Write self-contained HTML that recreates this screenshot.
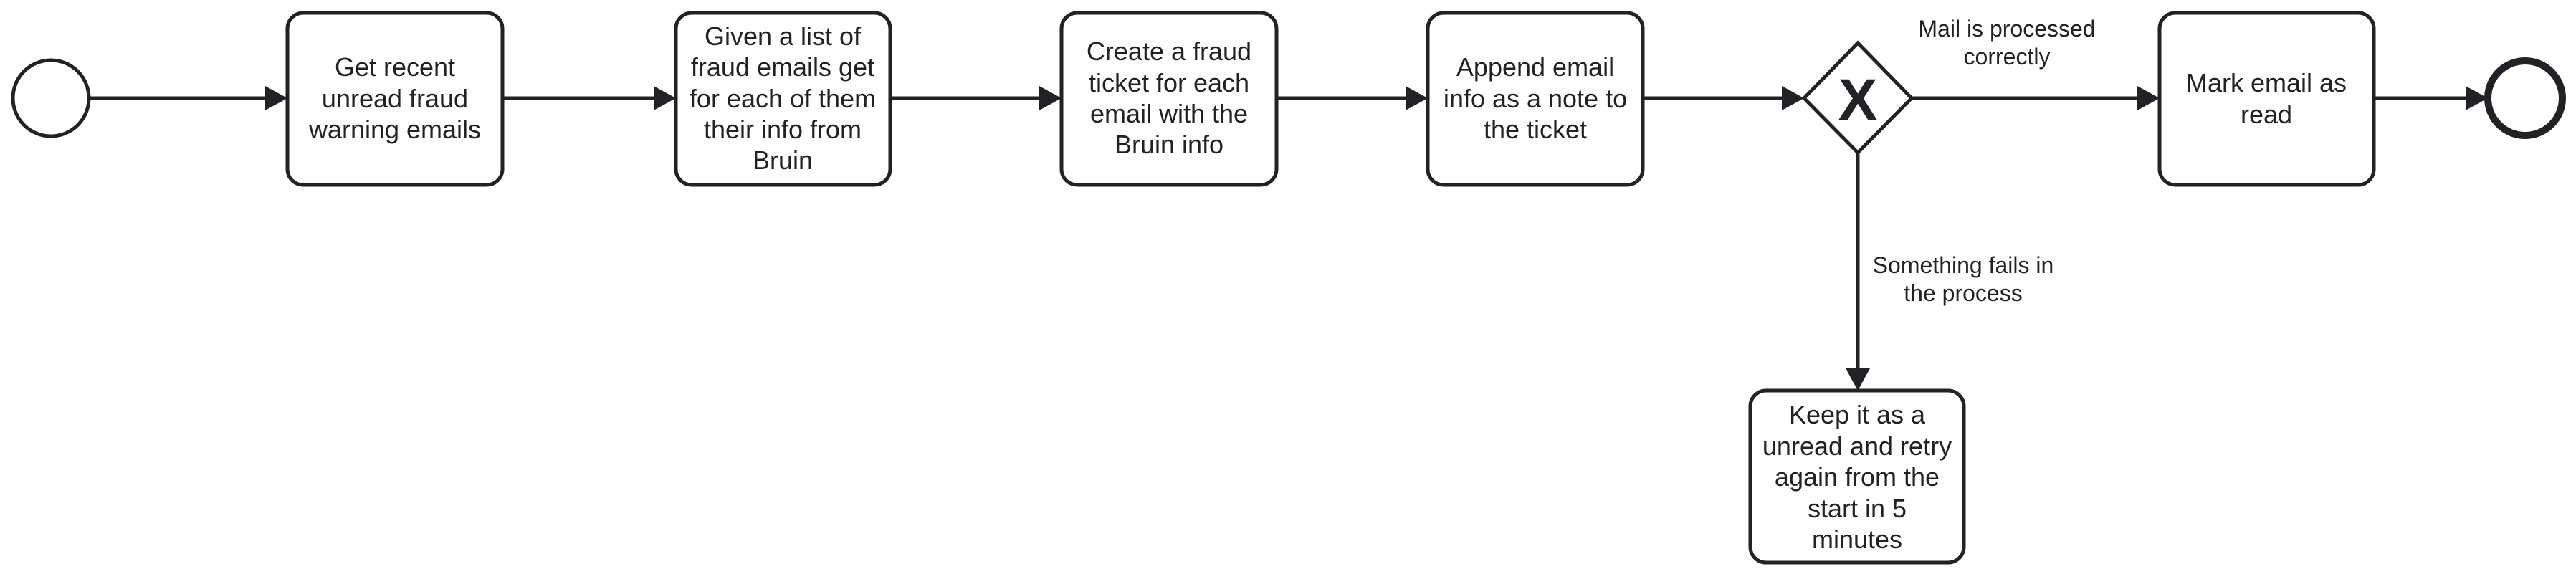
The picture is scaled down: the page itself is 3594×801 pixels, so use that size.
<!DOCTYPE html>
<html><head><meta charset="utf-8"><style>
html,body{margin:0;padding:0;background:#fff;}
svg{display:block;}
text{font-family:"Liberation Sans",Arial,sans-serif;fill:#222226;text-anchor:middle;}
.b{font-size:36px;}
.l{font-size:32px;}
</style></head><body>
<svg width="3594" height="801" viewBox="0 0 3594 801" xmlns="http://www.w3.org/2000/svg">
<g stroke="#222226" stroke-width="5" fill="none">
<circle cx="71" cy="137" r="53"/>
<circle cx="3523" cy="137" r="52" stroke-width="10"/>
<rect x="401" y="18" width="300" height="240" rx="22"/>
<rect x="943" y="18" width="299" height="240" rx="22"/>
<rect x="1481" y="18" width="300" height="240" rx="22"/>
<rect x="1992" y="18" width="300" height="240" rx="22"/>
<rect x="3013" y="18" width="299" height="240" rx="22"/>
<rect x="2442" y="545" width="298" height="240" rx="22"/>
<polygon points="2592,60 2667,137 2592,213 2517,137"/>
<line x1="124" y1="137" x2="375" y2="137"/>
<line x1="701" y1="137" x2="916" y2="137"/>
<line x1="1242" y1="137" x2="1454" y2="137"/>
<line x1="1781" y1="137" x2="1965" y2="137"/>
<line x1="2292" y1="137" x2="2490" y2="137"/>
<line x1="2667" y1="137" x2="2986" y2="137"/>
<line x1="3312" y1="137" x2="3440" y2="137"/>
<line x1="2592" y1="213" x2="2592" y2="518"/>
</g>
<g fill="#222226">
<polygon points="370,120 401,137 370,154"/>
<polygon points="912,120 943,137 912,154"/>
<polygon points="1450,120 1481,137 1450,154"/>
<polygon points="1961,120 1992,137 1961,154"/>
<polygon points="2486,120 2517,137 2486,154"/>
<polygon points="2982,120 3013,137 2982,154"/>
<polygon points="3440,120 3471,137 3440,154"/>
<polygon points="2575,514 2592,545 2609,514"/>
</g>
<text x="2592" y="167" style="font-size:82px;font-weight:bold">X</text>
<text class="b" x="551" y="106">Get recent</text>
<text class="b" x="551" y="150">unread fraud</text>
<text class="b" x="551" y="193">warning emails</text>
<text class="b" x="1092" y="63">Given a list of</text>
<text class="b" x="1092" y="106">fraud emails get</text>
<text class="b" x="1092" y="150">for each of them</text>
<text class="b" x="1092" y="193">their info from</text>
<text class="b" x="1092" y="236">Bruin</text>
<text class="b" x="1631" y="84">Create a fraud</text>
<text class="b" x="1631" y="128">ticket for each</text>
<text class="b" x="1631" y="171">email with the</text>
<text class="b" x="1631" y="214">Bruin info</text>
<text class="b" x="2142" y="106">Append email</text>
<text class="b" x="2142" y="150">info as a note to</text>
<text class="b" x="2142" y="193">the ticket</text>
<text class="b" x="3162" y="128">Mark email as</text>
<text class="b" x="3162" y="172">read</text>
<text class="b" x="2591" y="591">Keep it as a</text>
<text class="b" x="2591" y="635">unread and retry</text>
<text class="b" x="2591" y="678">again from the</text>
<text class="b" x="2591" y="722">start in 5</text>
<text class="b" x="2591" y="765">minutes</text>
<text class="l" x="2800" y="51">Mail is processed</text>
<text class="l" x="2800" y="90">correctly</text>
<text class="l" x="2739" y="381">Something fails in</text>
<text class="l" x="2739" y="420">the process</text>
</svg>
</body></html>
